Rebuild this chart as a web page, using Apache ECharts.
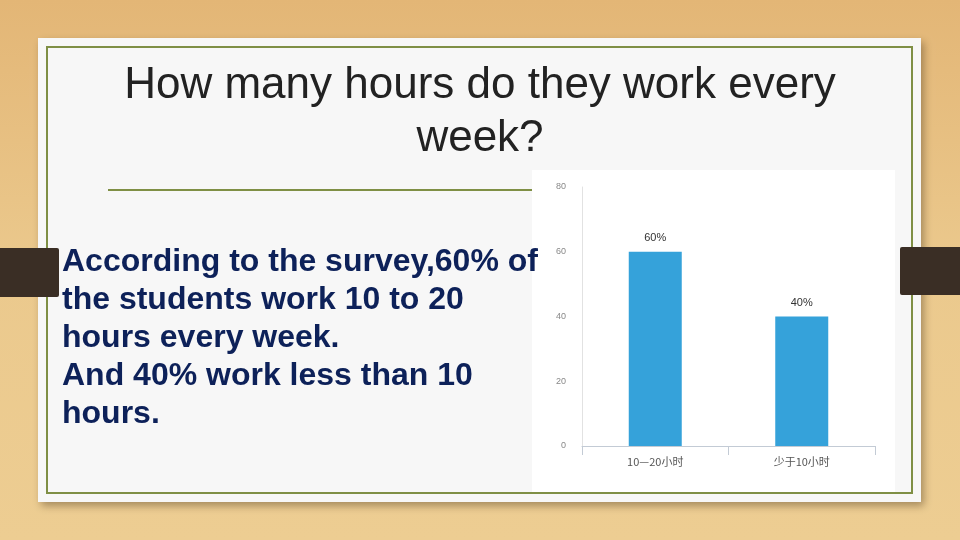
<!DOCTYPE html>
<html>
<head>
<meta charset="utf-8">
<script src="https://cdn.jsdelivr.net/npm/echarts@6/dist/echarts.min.js"></script>
<style>html,body{margin:0;padding:0;}#c{width:960px;height:540px;}</style>
</head>
<body>
<div id="c"></div>
<script>
const categories = ['10—20小时', '少于10小时'];
const values = [60, 40];
const yTicks = [0, 20, 40, 60, 80];
const titleLines = ['How many hours do they work every', 'week?'];
const bodyLines = [
  'According to the survey,60% of',
  'the students work 10 to 20',
  'hours every week.',
  'And 40% work less than 10',
  'hours.'
];

const chart = echarts.init(document.getElementById('c'));
const olive = '#7f8f45';
const graphics = [
  { type: 'rect', z: -10, shape: { x: 0, y: 0, width: 960, height: 540 },
    style: { fill: new echarts.graphic.LinearGradient(0, 0, 0, 1, [
      { offset: 0, color: '#e3b676' }, { offset: 0.5, color: '#ebc98d' }, { offset: 1, color: '#edcd92' }]) } },
  { type: 'rect', z: -9, shape: { x: 38, y: 38, width: 883, height: 464 },
    style: { fill: '#f7f7f7', shadowBlur: 8, shadowOffsetX: 3, shadowOffsetY: 4, shadowColor: 'rgba(80,60,30,0.45)' } },
  { type: 'rect', z: -8, shape: { x: 47, y: 47, width: 865, height: 446 },
    style: { fill: 'none', stroke: olive, lineWidth: 2 } },
  { type: 'rect', z: -8, shape: { x: 0, y: 248, width: 59, height: 49, r: [0, 2, 2, 0] },
    style: { fill: '#3a2e25' } },
  { type: 'rect', z: -8, shape: { x: 900, y: 247, width: 60, height: 48, r: [2, 0, 0, 2] },
    style: { fill: '#3a2e25' } },
  { type: 'line', z: -8, shape: { x1: 108, y1: 190, x2: 540, y2: 190 },
    style: { stroke: olive, lineWidth: 2 } },
  { type: 'rect', z: -7, shape: { x: 532, y: 170, width: 363, height: 322 },
    style: { fill: '#ffffff' } }
];
titleLines.forEach((t, i) => {
  graphics.push({ type: 'text', z: -6, x: 480, y: 86 + i * 52.5,
    style: { text: t, fill: '#222222', font: '44px "Liberation Sans", Arial, sans-serif',
      textAlign: 'center', textVerticalAlign: 'middle' } });
});
bodyLines.forEach((t, i) => {
  graphics.push({ type: 'text', z: 5, x: 62, y: 262.5 + i * 38,
    style: { text: t, fill: '#0d2159', font: 'bold 32px "Liberation Sans", Arial, sans-serif',
      textAlign: 'left', textVerticalAlign: 'middle' } });
});

chart.setOption({
  animation: false,
  graphic: graphics,
  grid: { left: 582, right: 85, top: 187, bottom: 94 },
  xAxis: {
    type: 'category', data: categories,
    axisLine: { lineStyle: { color: '#c3cbd5' } },
    axisTick: { show: true, length: 9, lineStyle: { color: '#c3cbd5' } },
    axisLabel: { color: '#555', fontSize: 11, margin: 10, fontFamily: '"Noto Sans CJK SC", sans-serif' }
  },
  yAxis: {
    type: 'value', min: yTicks[0], max: yTicks[yTicks.length - 1], interval: 20,
    axisLine: { show: true, lineStyle: { color: '#e2e2e2' } },
    axisTick: { show: false },
    splitLine: { show: false },
    axisLabel: { color: '#888', fontSize: 9, margin: 16 }
  },
  series: [{
    type: 'bar', data: values, barWidth: 53,
    itemStyle: { color: '#35a2da' },
    label: { show: true, position: 'top', formatter: '{c}%', color: '#333', fontSize: 11, distance: 8 }
  }]
});
</script>
</body>
</html>
